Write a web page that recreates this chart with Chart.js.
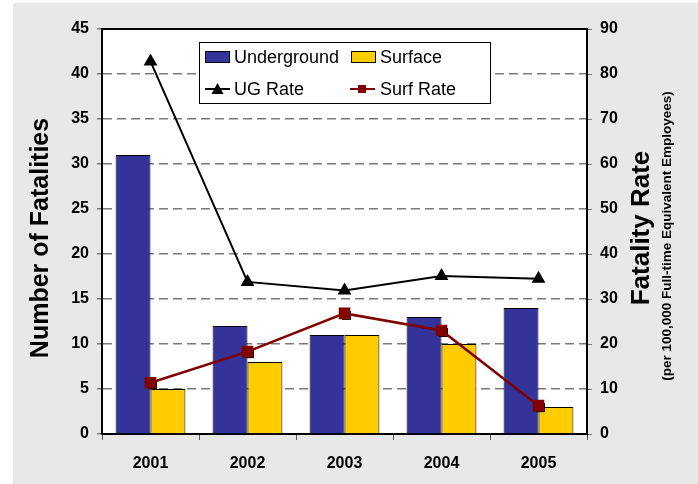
<!DOCTYPE html>
<html>
<head>
<meta charset="utf-8">
<script src="https://cdn.jsdelivr.net/npm/chart.js@4.4.1/dist/chart.umd.min.js"></script>
<style>
  html, body { margin: 0; padding: 0; background: #fff; }
  canvas { display: block; }
</style>
</head>
<body>
<canvas id="c" width="698" height="484"></canvas>
<script>
// data
const years = ["2001", "2002", "2003", "2004", "2005"];
const underground = [31, 12, 11, 13, 14];
const surface = [5, 8, 11, 10, 3];
const ugRate = [82.8, 33.8, 31.9, 35.1, 34.5];
const surfRate = [11.4, 18.3, 26.8, 23.0, 6.3];

const FONT = '"Liberation Sans", Arial, sans-serif';
const NAVY = "#333399", GOLD = "#ffcc00", MAROON = "#800000";

/* === background: gray panel + white plot area */
const backdrop = {
  id: "backdrop",
  beforeDraw(chart) {
    const { ctx, chartArea: a } = chart;
    ctx.save();
    ctx.fillStyle = "#fff";
    ctx.fillRect(0, 0, chart.width, chart.height);
    ctx.fillStyle = "#e8e8e8";
    ctx.fillRect(13, 3, chart.width - 13, chart.height - 3);
    ctx.fillStyle = "#fff";
    ctx.fillRect(a.left, a.top, a.right - a.left, a.bottom - a.top);
    ctx.restore();
  },
  beforeDatasetsDraw(chart) {
    // top edge of plot
    const { ctx, chartArea: a } = chart;
    ctx.save();
    ctx.strokeStyle = "#000";
    ctx.lineWidth = 2;
    ctx.beginPath();
    ctx.moveTo(a.left, a.top);
    ctx.lineTo(a.right, a.top);
    ctx.stroke();
    ctx.restore();
  }
};

/* === small black shadow under the Surf Rate squares */
const squareShadow = {
  id: "squareShadow",
  beforeDatasetDraw(chart, args) {
    if (args.index !== 3) return;
    const ctx = chart.ctx;
    ctx.save();
    ctx.fillStyle = "#000";
    args.meta.data.forEach(p => ctx.fillRect(p.x - 2.5, p.y - 2.5, 9, 9));
    ctx.restore();
  }
};

/* === axis titles (rotated) */
const axisTitles = {
  id: "axisTitles",
  afterDraw(chart) {
    const ctx = chart.ctx;
    const rot = (text, font, x, y) => {
      ctx.save();
      ctx.translate(x, y);
      ctx.rotate(-Math.PI / 2);
      ctx.font = font;
      ctx.fillStyle = "#000";
      ctx.textAlign = "center";
      ctx.textBaseline = "middle";
      ctx.fillText(text, 0, 0);
      ctx.restore();
    };
    rot("Number of Fatalities", `bold 25px ${FONT}`, 41, 238);
    rot("Fatality Rate", `bold 26px ${FONT}`, 642, 228);
    rot("(per 100,000 Full-time Equivalent Employees)", `bold 13.5px ${FONT}`, 667, 236);
  }
};

/* === legend box inside the plot */
const boxLegend = {
  id: "boxLegend",
  afterDraw(chart) {
    const ctx = chart.ctx;
    const L = 199, T = 42, R = 490, B = 103;
    ctx.save();
    ctx.fillStyle = "#fff";
    ctx.fillRect(L, T, R - L, B - T);
    ctx.strokeStyle = "#000";
    ctx.lineWidth = 1;
    ctx.strokeRect(L + 0.5, T + 0.5, R - L, B - T);

    ctx.font = `18px ${FONT}`;
    ctx.textBaseline = "middle";
    ctx.fillStyle = "#000";
    const row1 = 57, row2 = 89;

    // bar swatches
    const swatch = (x, color) => {
      ctx.fillStyle = color;
      ctx.fillRect(x, row1 - 6, 25, 12);
      ctx.strokeStyle = "#000";
      ctx.strokeRect(x + 0.5, row1 - 5.5, 24, 11);
    };
    swatch(205, NAVY);
    swatch(351, GOLD);

    // line swatches
    const lineSw = (x, color) => {
      ctx.strokeStyle = color;
      ctx.lineWidth = 2;
      ctx.beginPath();
      ctx.moveTo(x, row2);
      ctx.lineTo(x + 25, row2);
      ctx.stroke();
    };
    lineSw(205, "#000");
    ctx.fillStyle = "#000";
    ctx.beginPath();
    ctx.moveTo(217.5, row2 - 6);
    ctx.lineTo(223.5, row2 + 5);
    ctx.lineTo(211.5, row2 + 5);
    ctx.closePath();
    ctx.fill();
    lineSw(350, MAROON);
    ctx.fillStyle = MAROON;
    ctx.fillRect(358, row2 - 4, 8, 8);

    ctx.fillStyle = "#000";
    ctx.fillText("Underground", 234, row1 + 1);
    ctx.fillText("Surface", 380, row1 + 1);
    ctx.fillText("UG Rate", 234, row2 + 1);
    ctx.fillText("Surf Rate", 380, row2 + 1);
    ctx.restore();
  }
};

const tickFont = { family: FONT, size: 16, weight: "bold" };

new Chart(document.getElementById("c"), {
  data: {
    labels: years,
    datasets: [
      {
        type: "line", label: "UG Rate", data: ugRate, yAxisID: "y1", order: 0,
        borderColor: "#000", borderWidth: 2, pointStyle: "triangle",
        pointRadius: 6, pointBackgroundColor: "#000", pointBorderColor: "#000"
      },
      {
        type: "bar", label: "Underground", data: underground, yAxisID: "y", order: 2,
        backgroundColor: NAVY, borderColor: "#000", borderWidth: 1
      },
      {
        type: "bar", label: "Surface", data: surface, yAxisID: "y", order: 2,
        backgroundColor: GOLD, borderColor: "#000", borderWidth: 1
      },
      {
        type: "line", label: "Surf Rate", data: surfRate, yAxisID: "y1", order: 1,
        borderColor: MAROON, borderWidth: 2.5, pointStyle: "rect",
        pointRadius: 6.4, pointBackgroundColor: MAROON, pointBorderColor: MAROON
      }
    ]
  },
  options: {
    responsive: false,
    animation: false,
    categoryPercentage: 0.72,
    barPercentage: 1.0,
    layout: { padding: { left: 13, top: 29, right: 0, bottom: 0 } },
    plugins: { legend: { display: false }, tooltip: { enabled: false } },
    scales: {
      x: {
        afterFit(s) { s.height = 50; },
        grid: { drawOnChartArea: false, tickLength: 6, tickColor: "#555", offset: true },
        border: { color: "#000", width: 2 },
        ticks: { font: tickFont, color: "#000", padding: 14 }
      },
      y: {
        position: "left", min: 0, max: 45,
        afterFit(s) { s.width = 89; },
        grid: { color: "#7a7a7a", lineWidth: 1.5, tickLength: 5, tickColor: "#7a7a7a" },
        border: { color: "#000", width: 2, dash: [9, 5] },
        ticks: { stepSize: 5, font: tickFont, color: "#000", padding: 8 }
      },
      y1: {
        position: "right", min: 0, max: 90,
        afterFit(s) { s.width = 111; },
        grid: { drawOnChartArea: false, tickLength: 5, tickColor: "#7a7a7a" },
        border: { color: "#000", width: 2 },
        ticks: { stepSize: 10, font: tickFont, color: "#000", padding: 8 }
      }
    }
  },
  plugins: [backdrop, squareShadow, axisTitles, boxLegend]
});
</script>
</body>
</html>
